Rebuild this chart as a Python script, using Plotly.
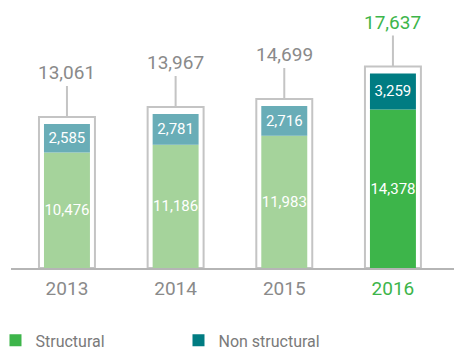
import plotly.graph_objects as go

# Data
years = ["2013", "2014", "2015", "2016"]
structural = [10476, 11186, 11983, 14378]
non_structural = [2585, 2781, 2716, 3259]
totals = [13061, 13967, 14699, 17637]

# Styling
GRAY_TEXT = "#8a8a8a"
FRAME = "#c4c4c4"
AXIS = "#b5b5b5"
GREEN = "#3db54a"
LIGHT_GREEN = "#a5d39b"
TEAL = "#007c82"
LIGHT_TEAL = "#69adb7"
FONT = "Roboto, 'Open Sans', sans-serif"

W, H = 454, 350
M = dict(l=11, r=0, t=0, b=82, autoexpand=False)
Y_MAX = 24300
plot_h = H - M["t"] - M["b"]
px_to_units = Y_MAX / plot_h
frame_pad = 7 * px_to_units  # frame sits 7px above each stacked bar

hi = len(years) - 1  # highlighted (latest) year
past = slice(0, hi)

fig = go.Figure()

# Outline frames around each bar
fig.add_trace(go.Bar(
    x=years, y=[t + frame_pad for t in totals], base=0, width=0.515,
    marker=dict(color="rgba(0,0,0,0)", line=dict(color=FRAME, width=2)),
    showlegend=False, hoverinfo="skip",
))

bar_kw = dict(width=0.423, textposition="inside", insidetextanchor="middle",
              constraintext="none", textangle=0,
              textfont=dict(color="white", size=15, family=FONT),
              marker_line_width=0)

fig.add_trace(go.Bar(
    x=years[past], y=structural[past], marker_color=LIGHT_GREEN,
    text=[f"{v:,}" for v in structural[past]], showlegend=False, **bar_kw))
fig.add_trace(go.Bar(
    x=years[hi:], y=structural[hi:], marker_color=GREEN, name="Structural",
    text=[f"{v:,}" for v in structural[hi:]], **bar_kw))
fig.add_trace(go.Bar(
    x=years[past], y=non_structural[past], base=structural[past],
    marker_color=LIGHT_TEAL, text=[f"{v:,}" for v in non_structural[past]],
    showlegend=False, **bar_kw))
fig.add_trace(go.Bar(
    x=years[hi:], y=non_structural[hi:], base=structural[hi:],
    marker_color=TEAL, name="Non structural",
    text=[f"{v:,}" for v in non_structural[hi:]], **bar_kw))

# Total labels with connector lines (x given as category index)
for i, t in enumerate(totals):
    fig.add_annotation(
        x=i, y=t + frame_pad, text=f"{t:,}", showarrow=True,
        arrowhead=0, arrowwidth=2, arrowcolor=FRAME, ax=0, ay=-44,
        standoff=0, font=dict(size=19, family=FONT,
                              color=GREEN if i == hi else GRAY_TEXT),
    )

tick_text = [f"<span style='color:{GREEN}'>{y}</span>" if i == hi else y
             for i, y in enumerate(years)]

fig.update_layout(
    width=W, height=H, margin=M,
    barmode="overlay",
    plot_bgcolor="white", paper_bgcolor="white",
    font=dict(family=FONT, color=GRAY_TEXT),
    xaxis=dict(type="category", range=[-0.515, 3.562],
               tickvals=years, ticktext=tick_text,
               tickfont=dict(size=19, color=GRAY_TEXT),
               showline=True, linecolor=AXIS, linewidth=2,
               showgrid=False, ticks="", ticklabelstandoff=2,
               fixedrange=True),
    yaxis=dict(range=[0, Y_MAX], visible=False, fixedrange=True),
    legend=dict(orientation="h", x=-0.035, xanchor="left",
                y=-0.27, yanchor="middle", entrywidth=138,
                font=dict(size=16, color="#7a7a7a", family=FONT),
                traceorder="normal"),
    showlegend=True,
)

fig.write_html("out.html")
